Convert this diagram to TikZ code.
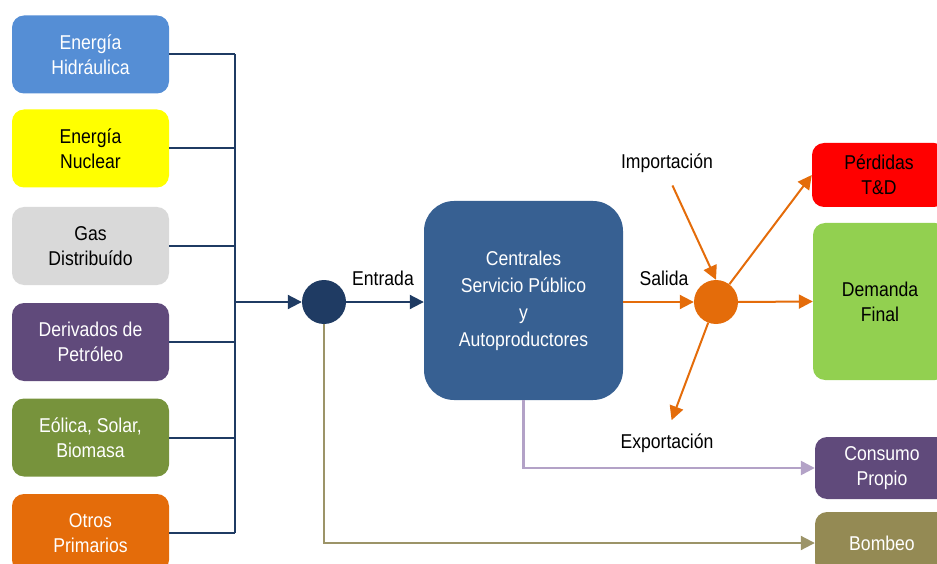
\documentclass[tikz,border=0pt]{standalone}
\usepackage{fontspec}
\setmainfont[FakeStretch=0.88]{Liberation Sans}
\usetikzlibrary{arrows.meta,calc}
\definecolor{cHidro}{HTML}{558ED5}
\definecolor{cNuc}{HTML}{FFFF00}
\definecolor{cGas}{HTML}{D9D9D9}
\definecolor{cDer}{HTML}{604A7B}
\definecolor{cEol}{HTML}{77933C}
\definecolor{cOtr}{HTML}{E46C0A}
\definecolor{cNavy}{HTML}{1F3B63}
\definecolor{cCent}{HTML}{376092}
\definecolor{cPer}{HTML}{FF0000}
\definecolor{cDem}{HTML}{92D050}
\definecolor{cCons}{HTML}{604A7B}
\definecolor{cBomb}{HTML}{948A54}
\definecolor{cLav}{HTML}{B3A2C7}
\definecolor{cOli}{HTML}{9C9468}
\tikzset{
  srcbox/.style={rounded corners=12pt, minimum width=157pt, minimum height=78pt, align=center, inner sep=0pt,
    font=\fontsize{20}{25}\selectfont},
  outbox/.style={rounded corners=12pt, minimum width=134pt, align=center, inner sep=0pt,
    font=\fontsize{20}{25}\selectfont},
  lbl/.style={font=\fontsize{20}{22}\selectfont, inner sep=1pt},
  navyline/.style={draw=cNavy, line width=2pt},
  tip/.style={-{Triangle[length=14pt,width=14pt]}},
  oarrow/.style={draw=cOtr, line width=2pt, tip},
}
\begin{document}
\begin{tikzpicture}[x=1pt,y=-1pt]
\useasboundingbox (0,0) rectangle (937,564);
% source boxes
\node[srcbox, fill=cHidro, text=white] (b1) at (90.5,54.5) {Energía\\Hidráulica};
\node[srcbox, fill=cNuc, text=black] (b2) at (90.5,148.5) {Energía\\Nuclear};
\node[srcbox, fill=cGas, text=black] (b3) at (90.5,246) {Gas\\Distribuído};
\node[srcbox, fill=cDer, text=white] (b4) at (90.5,342) {Derivados de\\Petróleo};
\node[srcbox, fill=cEol, text=white] (b5) at (90.5,437.5) {Eólica, Solar,\\Biomasa};
\node[srcbox, fill=cOtr, text=white] (b6) at (90.5,533) {Otros\\Primarios};
% bus
\coordinate (busx) at (235,0);
\foreach \b in {b1,b2,b3,b4,b5,b6}{
  \draw[navyline] (\b.east) -- (\b.east -| busx);
}
\draw[navyline] (b1.east -| busx) -- (b6.east -| busx);
% navy circle
\node[circle, fill=cNavy, minimum size=44pt, inner sep=0pt] (nc) at (324,302) {};
\draw[navyline, tip] (busx |- nc) -- (nc.west);
% central box
\node[rounded corners=30pt, fill=cCent, text=white, minimum width=199pt, minimum height=199pt,
  align=center, inner sep=0pt, font=\fontsize{20}{27}\selectfont] (cent) at (523.5,300.5)
  {Centrales\\Servicio Público\\y\\Autoproductores};
\draw[navyline, tip] (nc.east) -- (nc.east -| cent.west);
\node[lbl] (ent) at (383,278) {Entrada};
% orange circle
\node[circle, fill=cOtr, minimum size=44pt, inner sep=0pt] (oc) at (716,302) {};
\draw[oarrow] (oc -| cent.east) -- (oc.west);
\node[lbl] (sal) at (664,278) {Salida};
\node[lbl] (imp) at (667,163) {Importación};
\node[lbl] (exp) at (667,443) {Exportación};
\draw[oarrow, shorten <=13pt] (imp.south) -- (oc.north);
\draw[oarrow, shorten >=13pt] (oc) -- (exp.north);
% right boxes
\node[outbox, fill=cPer, text=black, minimum height=64pt] (perd) at (879,175) {Pérdidas\\T\&D};
\node[outbox, fill=cDem, text=black, minimum height=157pt] (dem) at (880,301.5) {Demanda\\Final};
\node[outbox, fill=cCons, text=white, minimum height=62pt] (cons) at (882,468) {Consumo\\Propio};
\node[outbox, fill=cBomb, text=white, minimum height=62pt] (bomb) at (882,543) {Bombeo};
\draw[oarrow] (oc) -- (perd.west);
\draw[oarrow] (oc.east) -- (dem.west);
% lavender and olive
\draw[draw=cLav, line width=2.5pt, tip] (cent.south) |- (cons.west);
\draw[draw=cOli, line width=2pt, tip] (nc.south) |- (bomb.west);
\end{tikzpicture}
\end{document}
